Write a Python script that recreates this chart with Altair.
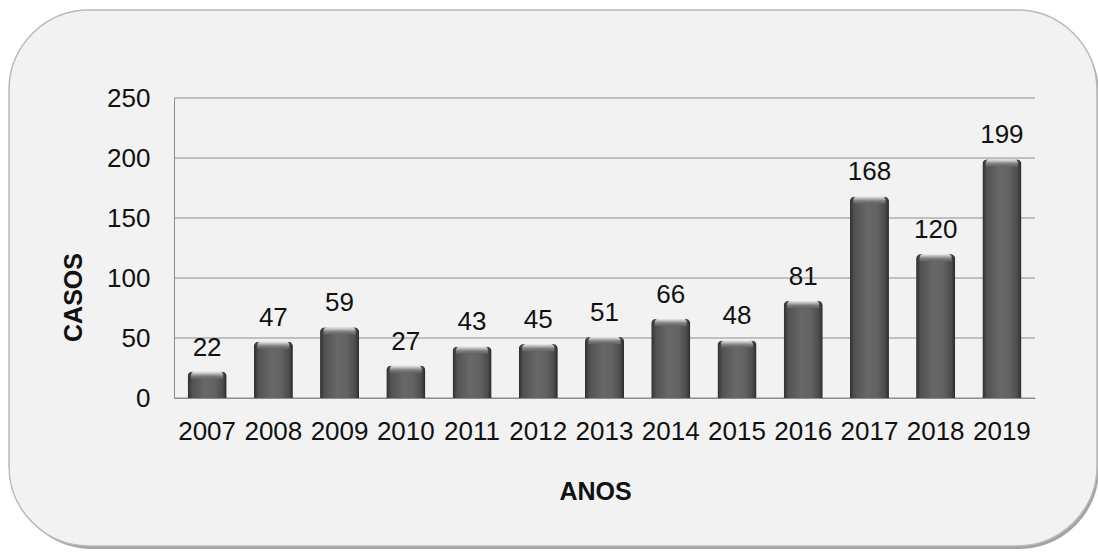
import altair as alt
import pandas as pd

# Casos por ano
anos = ["2007", "2008", "2009", "2010", "2011", "2012", "2013",
        "2014", "2015", "2016", "2017", "2018", "2019"]
casos = [22, 47, 59, 27, 43, 45, 51, 66, 48, 81, 168, 120, 199]
y_ticks = [0, 50, 100, 150, 200, 250]

FONT = "Liberation Sans"
W, H = 861, 300          # plot area
LEFT, TOP = 174, 98      # plot origin inside the 1098x552 page
FS = 26

df = pd.DataFrame({"ano": anos, "casos": casos})
grid_df = pd.DataFrame({"v": y_ticks})
one = pd.DataFrame({"k": [0]})

x_enc = alt.X(
    "ano:N", sort=anos,
    scale=alt.Scale(paddingInner=0.41, paddingOuter=0.205),
    axis=alt.Axis(
        title="ANOS", labelAngle=0, ticks=False, labelPadding=20,
        domainColor="#8c8c8c", labelFont=FONT, labelFontSize=FS,
        labelColor="#111111", titleFont=FONT, titleFontSize=25,
        titleFontWeight="bold", titleColor="#111111",
        titleX=421, titleY=93, titleBaseline="middle", titleAlign="center",
        zindex=1,
    ),
)
y_scale = alt.Scale(domain=[0, 250], nice=False)
y_enc = alt.Y(
    "casos:Q", scale=y_scale,
    axis=alt.Axis(
        title="CASOS", values=y_ticks, grid=False, ticks=False,
        labelPadding=24, domainColor="#8c8c8c", labelFont=FONT,
        labelFontSize=FS, labelColor="#111111", titleFont=FONT,
        titleFontSize=25, titleFontWeight="bold", titleColor="#111111",
        titleAngle=270, titleX=-101, titleY=199, titleAlign="center",
        titleBaseline="middle", zindex=1,
    ),
)

# Rounded card behind the chart, with a soft shadow
shadow = alt.Chart(one).mark_rect(
    cornerRadius=80, fill="#a3a3a3"
).encode(
    x=alt.value(9 - LEFT + 3), x2=alt.value(1097 - LEFT + 2),
    y=alt.value(10 - TOP + 3), y2=alt.value(547 - TOP + 2),
)
card = alt.Chart(one).mark_rect(
    cornerRadius=80, fill="#f2f2f2", stroke="#b9b9b9", strokeWidth=1.5
).encode(
    x=alt.value(9 - LEFT), x2=alt.value(1097 - LEFT),
    y=alt.value(10 - TOP), y2=alt.value(546 - TOP),
)

grid = alt.Chart(grid_df).mark_rule(color="#8e8e8e", strokeWidth=1).encode(
    y=alt.Y("v:Q", scale=y_scale), x=alt.value(0), x2=alt.value(W)
)

body_fill = alt.Gradient(
    gradient="linear", x1=0, x2=1, y1=0, y2=0,
    stops=[
        alt.GradientStop(color="#2f2f2f", offset=0),
        alt.GradientStop(color="#525252", offset=0.12),
        alt.GradientStop(color="#686868", offset=0.45),
        alt.GradientStop(color="#626262", offset=0.7),
        alt.GradientStop(color="#4c4c4c", offset=0.9),
        alt.GradientStop(color="#2a2a2a", offset=1),
    ],
)
cap_fill = alt.Gradient(
    gradient="linear", x1=0, x2=0, y1=0, y2=1,
    stops=[
        alt.GradientStop(color="#f0f0f0", offset=0),
        alt.GradientStop(color="#b8b8b8", offset=0.3),
        alt.GradientStop(color="#7a7a7a", offset=0.65),
        alt.GradientStop(color="#646464", offset=1),
    ],
)

base = alt.Chart(df)
bars = base.mark_bar(
    fill=body_fill, cornerRadiusTopLeft=5, cornerRadiusTopRight=5
).encode(x=x_enc, y=y_enc)

caps = base.transform_calculate(
    cap_bottom="datum.casos - 6"
).mark_bar(
    fill=cap_fill, cornerRadiusTopLeft=5, cornerRadiusTopRight=5,
    width=32,
).encode(
    x=alt.X("ano:N", sort=anos),
    y=alt.Y("casos:Q", scale=y_scale),
    y2="cap_bottom:Q",
)

labels = base.mark_text(
    font=FONT, fontSize=FS, color="#111111", baseline="alphabetic", dy=-16
).encode(
    x=alt.X("ano:N", sort=anos),
    y=alt.Y("casos:Q", scale=y_scale),
    text="casos:Q",
)

chart = alt.layer(shadow, card, grid, bars, caps, labels).properties(
    width=W, height=H,
    autosize=alt.AutoSizeParams(type="none"),
    padding={"left": LEFT, "top": TOP, "right": 1098 - LEFT - W,
             "bottom": 552 - TOP - H},
    background="#ffffff",
).configure_view(stroke=None)

chart.save("out.html", embed_options={"renderer": "svg", "actions": False})
